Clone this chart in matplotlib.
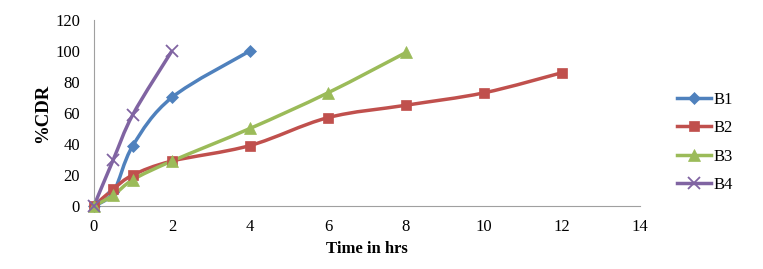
import matplotlib
matplotlib.use("Agg")
import matplotlib.pyplot as plt
from matplotlib.path import Path
from matplotlib.patches import PathPatch
from matplotlib.lines import Line2D

# ---------------------------
# DATA
# ---------------------------

b1_time = [0, 0.5, 1, 2, 4]
b1_cdr = [0, 9, 39, 70, 100]

b2_time = [0, 0.5, 1, 2, 4, 6, 8, 10, 12]
b2_cdr = [0, 11, 20, 29, 39, 57, 65, 73, 86]

b3_time = [0, 0.5, 1, 2, 4, 6, 8]
b3_cdr = [0, 7, 17, 29, 50, 73, 99]

b4_time = [0, 0.5, 1, 2]
b4_cdr = [0, 30, 59, 100]

series = [
    ("B1", b1_time, b1_cdr, "#4F81BD", "D", 6),
    ("B2", b2_time, b2_cdr, "#C0504D", "s", 7.5),
    ("B3", b3_time, b3_cdr, "#9BBB59", "^", 8),
    ("B4", b4_time, b4_cdr, "#8064A2", "x", 8),
]


def smooth_path(xs, ys):
    # Excel-style smoothed line: cubic bezier through points
    pts = list(zip(xs, ys))
    verts = [pts[0]]
    codes = [Path.MOVETO]
    n = len(pts)
    for i in range(n - 1):
        p0 = pts[i - 1] if i > 0 else pts[i]
        p1 = pts[i]
        p2 = pts[i + 1]
        p3 = pts[i + 2] if i + 2 < n else pts[i + 1]
        c1 = (p1[0] + (p2[0] - p0[0]) / 6, p1[1] + (p2[1] - p0[1]) / 6)
        c2 = (p2[0] - (p3[0] - p1[0]) / 6, p2[1] - (p3[1] - p1[1]) / 6)
        verts += [c1, c2, p2]
        codes += [Path.CURVE4] * 3
    return Path(verts, codes)


plt.rcParams["font.family"] = "Liberation Serif"

fig = plt.figure(figsize=(7.63, 2.69), dpi=100)
ax = fig.add_axes([0.123, 0.234, 0.716, 0.692])

handles = []
for name, xs, ys, color, marker, ms in series:
    mew = 1.3 if marker == "x" else 0.5
    ax.add_patch(PathPatch(smooth_path(xs, ys), facecolor="none",
                           edgecolor=color, lw=2.5, zorder=2))
    ax.plot(xs, ys, linestyle="none", marker=marker, color=color,
            markersize=ms, markeredgewidth=mew, zorder=3, clip_on=False)
    handles.append(Line2D([0], [0], color=color, lw=2.5, marker=marker,
                          markersize=ms, markeredgewidth=mew))

ax.set_xlim(0, 14)
ax.set_ylim(0, 120)
ax.set_xticks(range(0, 15, 2))
ax.set_yticks(range(0, 121, 20))

for lab in ax.get_xticklabels() + ax.get_yticklabels():
    lab.set_fontsize(12)
ax.tick_params(axis="y", length=0, pad=10)
ax.tick_params(axis="x", length=0, pad=9)

ax.spines["top"].set_visible(False)
ax.spines["right"].set_visible(False)
ax.spines["left"].set_color("#A0A0A0")
ax.spines["bottom"].set_color("#A0A0A0")

ax.set_xlabel("Time in hrs", fontweight="bold", fontsize=12, labelpad=5)
ax.set_ylabel("%CDR", fontweight="bold", fontsize=13.5, labelpad=3)

fig.legend(handles, ["B1", "B2", "B3", "B4"], loc="center left",
           bbox_to_anchor=(0.868, 0.47), frameon=False, handlelength=2.0,
           handletextpad=0.2, labelspacing=0.75,
           prop={"family": "Liberation Serif", "size": 12})

fig.savefig("out.png", dpi=100)
